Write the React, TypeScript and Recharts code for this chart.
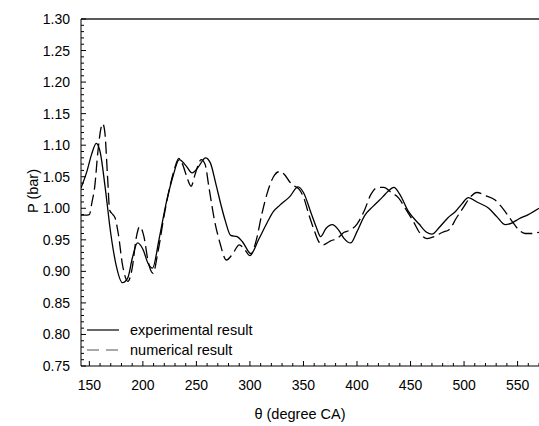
import React from 'react';
import { LineChart, Line, XAxis, YAxis, ReferenceLine } from 'recharts';

const experimentalTheta = [142.2, 148, 152, 156.5, 160, 165, 170, 175, 181, 186, 190, 195, 200, 205, 209, 215, 222, 228, 234, 240, 246, 252, 258.5, 263, 268, 273, 277, 282, 288, 293, 301, 308, 316, 322, 328, 337, 345, 350, 357, 362, 366, 371, 377, 383, 388, 394, 400, 407, 415, 424, 429, 434.5, 440, 448, 458, 465, 470, 477, 485, 492, 498, 504, 512, 523, 531, 538.6, 545, 551, 560, 570];
const experimentalP = [1.032, 1.06, 1.085, 1.103, 1.09, 1.03, 0.96, 0.91, 0.882, 0.89, 0.92, 0.945, 0.935, 0.912, 0.905, 0.95, 1.01, 1.05, 1.077, 1.068, 1.056, 1.066, 1.08, 1.072, 1.04, 1.005, 0.98, 0.957, 0.955, 0.947, 0.928, 0.95, 0.977, 0.995, 1.005, 1.018, 1.034, 1.025, 0.993, 0.97, 0.955, 0.968, 0.974, 0.965, 0.952, 0.945, 0.963, 0.988, 1.003, 1.018, 1.027, 1.033, 1.022, 0.995, 0.975, 0.962, 0.959, 0.97, 0.985, 0.995, 1.007, 1.017, 1.01, 1.0, 0.986, 0.974, 0.977, 0.983, 0.99, 1.0];

const numericalTheta = [142.2, 146, 150, 152.5, 155, 158, 161, 162.5, 164.5, 167, 169, 172, 174, 177, 181, 186, 190, 194, 197, 201, 205, 209.5, 214, 220, 226, 230, 233.5, 237, 241, 245, 249, 254.5, 258, 262, 267, 272, 278, 284, 290, 295, 300, 306, 311, 316.5, 322, 327.5, 333, 337, 342, 346, 350, 355, 360, 364, 368, 375, 382, 388, 393, 400, 407, 413, 419, 425, 432, 439, 445, 452, 459, 465.5, 472, 480, 486, 493, 500, 506, 512, 520, 529, 537, 545, 551, 557, 563, 570];
const numericalP = [0.989, 0.989, 0.99, 1.01, 1.034, 1.09, 1.128, 1.134, 1.12, 1.05, 0.997, 0.99, 0.985, 0.96, 0.91, 0.884, 0.905, 0.955, 0.971, 0.955, 0.915, 0.897, 0.93, 0.99, 1.04, 1.065, 1.079, 1.07, 1.05, 1.035, 1.055, 1.077, 1.07, 1.03, 0.98, 0.945, 0.918, 0.928, 0.942, 0.935, 0.925, 0.95, 0.99, 1.026, 1.05, 1.058, 1.052, 1.042, 1.035, 1.03, 1.018, 0.99, 0.965, 0.948, 0.942, 0.948, 0.953, 0.962, 0.965, 0.975, 0.997, 1.022, 1.033, 1.033, 1.025, 1.016, 1.0, 0.981, 0.96, 0.952, 0.955, 0.962, 0.966, 0.985, 1.003, 1.018, 1.025, 1.02, 1.013, 0.998, 0.979, 0.966, 0.96, 0.96, 0.962];

const xMajorTicks = [150, 200, 250, 300, 350, 400, 450, 500, 550];
const yMajorTicks = [0.75, 0.8, 0.85, 0.9, 0.95, 1.0, 1.05, 1.1, 1.15, 1.2, 1.25, 1.3];

const seriesNames = ['experimental result', 'numerical result'];

const experimentalData = experimentalTheta.map((t, i) => ({ theta: t, p: experimentalP[i] }));
const numericalData = numericalTheta.map((t, i) => ({ theta: t, p: numericalP[i] }));

const xAllTicks: number[] = [];
for (let v = xMajorTicks[0]; v <= 570; v += 10) xAllTicks.push(v);
const yAllTicks: number[] = [];
for (let k = 0; k <= 55; k++) {
  yAllTicks.push(Math.round((yMajorTicks[0] + k * 0.01) * 100) / 100);
}

const FONT = '"Liberation Sans", Arial, sans-serif';

const XTick = (props: any) => {
  const { x, y, payload } = props;
  const v = payload.value;
  const major = xMajorTicks.includes(v);
  return (
    <g>
      <line x1={x} y1={y} x2={x} y2={y - (major ? 5 : 3)} stroke="#000" strokeWidth={1} />
      {major && (
        <text x={x} y={y + 24} textAnchor="middle" fontFamily={FONT} fontSize={14} fill="#000">
          {v}
        </text>
      )}
    </g>
  );
};

const YTick = (props: any) => {
  const { x, y, payload } = props;
  const v = payload.value;
  const major = Math.round(v * 100) % 5 === 0;
  return (
    <g>
      <line x1={x} y1={y} x2={x + (major ? 5 : 3)} y2={y} stroke="#000" strokeWidth={1} />
      {major && (
        <text x={x - 11} y={y + 5} textAnchor="end" fontFamily={FONT} fontSize={14} fill="#000">
          {v.toFixed(2)}
        </text>
      )}
    </g>
  );
};

const LegendBox = () => (
  <div style={{ position: 'absolute', left: 87, top: 320, fontFamily: FONT, fontSize: 14.5, color: '#000', lineHeight: '20px' }}>
    {seriesNames.map((name, i) => (
      <div key={name} style={{ display: 'flex', alignItems: 'center', height: 20 }}>
        <svg width={32} height={6} style={{ marginRight: 11 }}>
          <line x1={0} y1={3} x2={32} y2={3} stroke={i === 0 ? '#000' : '#555'} strokeWidth={1.2} strokeDasharray={i === 0 ? undefined : '12 7'} />
        </svg>
        <span>{name}</span>
      </div>
    ))}
  </div>
);

export default function App() {
  return (
    <div style={{ position: 'absolute', left: 0, top: 0, width: 539, height: 426, background: '#fff' }}>
      <LineChart width={539} height={426} margin={{ top: 19, right: 0, bottom: 0, left: 0 }}>
        <XAxis
          dataKey="theta"
          type="number"
          domain={[142.2, 570]}
          allowDataOverflow
          ticks={xAllTicks}
          interval={0}
          tickSize={0}
          tickMargin={0}
          tick={<XTick />}
          tickLine={false}
          axisLine={{ stroke: '#000', strokeWidth: 1 }}
          height={60}
          label={{
            content: () => (
              <text x={300} y={419} textAnchor="middle" fontFamily={FONT} fontSize={14.5} fill="#000">
                θ (degree CA)
              </text>
            ),
          }}
        />
        <YAxis
          type="number"
          domain={[0.75, 1.3]}
          allowDataOverflow
          ticks={yAllTicks}
          interval={0}
          tickSize={0}
          tickMargin={0}
          tick={<YTick />}
          tickLine={false}
          axisLine={{ stroke: '#000', strokeWidth: 1 }}
          width={81}
          label={{
            content: () => (
              <text x={33} y={191} textAnchor="middle" fontFamily={FONT} fontSize={14.5} fill="#000" transform="rotate(-90 33 191)" dominantBaseline="central">
                P (bar)
              </text>
            ),
          }}
        />
        <ReferenceLine y={1.3} stroke="#222" strokeWidth={1.3} />
        <Line
          data={experimentalData}
          dataKey="p"
          name={seriesNames[0]}
          type="monotone"
          stroke="#000"
          strokeWidth={1.3}
          dot={false}
          isAnimationActive={false}
        />
        <Line
          data={numericalData}
          dataKey="p"
          name={seriesNames[1]}
          type="monotone"
          stroke="#000"
          strokeWidth={1.3}
          strokeDasharray="12 5"
          dot={false}
          isAnimationActive={false}
        />
      </LineChart>
      <LegendBox />
    </div>
  );
}
